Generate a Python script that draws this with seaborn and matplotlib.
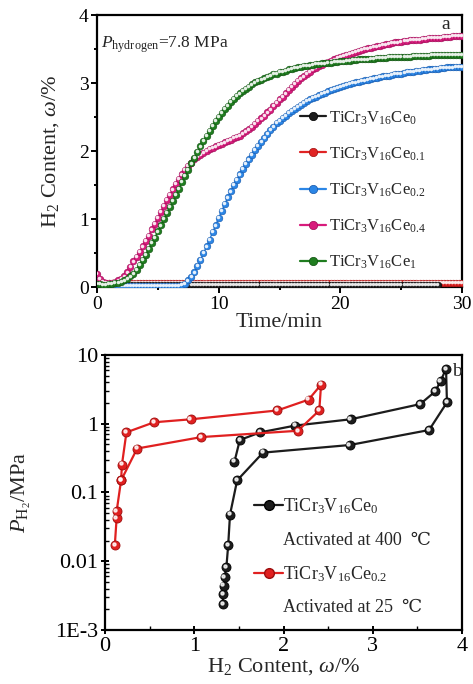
import numpy as np
import pandas as pd
import matplotlib
matplotlib.use("Agg")
import matplotlib.pyplot as plt
import matplotlib.transforms as mtransforms
from matplotlib.lines import Line2D
from matplotlib.ticker import MultipleLocator, LogLocator, NullFormatter
import seaborn as sns

# ---------------- data: panel a (kinetics, sampled every 0.25 min) ----------------
time_min = [i * 0.25 for i in range(121)]
time_black = [i * 0.25 for i in range(113)]

ce0 = [0.03, 0.03, 0.03, 0.03, 0.03, 0.03, 0.03, 0.03, 0.03, 0.03,
       0.03, 0.03, 0.03, 0.03, 0.03, 0.03, 0.03, 0.03, 0.03, 0.03,
       0.03, 0.03, 0.03, 0.03, 0.03, 0.03, 0.03, 0.03, 0.03, 0.03,
       0.03, 0.03, 0.03, 0.03, 0.03, 0.03, 0.03, 0.03, 0.03, 0.03,
       0.03, 0.03, 0.03, 0.03, 0.03, 0.03, 0.03, 0.03, 0.03, 0.03,
       0.03, 0.03, 0.03, 0.03, 0.03, 0.03, 0.03, 0.03, 0.03, 0.03,
       0.03, 0.03, 0.03, 0.03, 0.03, 0.03, 0.03, 0.03, 0.03, 0.03,
       0.03, 0.03, 0.03, 0.03, 0.03, 0.03, 0.03, 0.03, 0.03, 0.03,
       0.03, 0.03, 0.03, 0.03, 0.03, 0.03, 0.03, 0.03, 0.03, 0.03,
       0.03, 0.03, 0.03, 0.03, 0.03, 0.03, 0.03, 0.03, 0.03, 0.03,
       0.03, 0.03, 0.03, 0.03, 0.03, 0.03, 0.03, 0.03, 0.03, 0.03,
       0.03, 0.03, 0.03]
ce01 = [0.07, 0.07, 0.07, 0.07, 0.07, 0.07, 0.07, 0.07, 0.07, 0.07,
        0.07, 0.07, 0.07, 0.07, 0.07, 0.07, 0.07, 0.07, 0.07, 0.07,
        0.07, 0.07, 0.07, 0.07, 0.07, 0.07, 0.07, 0.07, 0.07, 0.07,
        0.07, 0.07, 0.07, 0.07, 0.07, 0.07, 0.07, 0.07, 0.07, 0.07,
        0.07, 0.07, 0.07, 0.07, 0.07, 0.07, 0.07, 0.07, 0.07, 0.07,
        0.07, 0.07, 0.07, 0.07, 0.07, 0.07, 0.07, 0.07, 0.07, 0.07,
        0.07, 0.07, 0.07, 0.07, 0.07, 0.07, 0.07, 0.07, 0.07, 0.07,
        0.07, 0.07, 0.07, 0.07, 0.07, 0.07, 0.07, 0.07, 0.07, 0.07,
        0.07, 0.07, 0.07, 0.07, 0.07, 0.07, 0.07, 0.07, 0.07, 0.07,
        0.07, 0.07, 0.07, 0.07, 0.07, 0.07, 0.07, 0.07, 0.07, 0.07,
        0.07, 0.07, 0.07, 0.07, 0.07, 0.07, 0.07, 0.07, 0.07, 0.07,
        0.07, 0.07, 0.07, 0.07, 0.07, 0.07, 0.07, 0.07, 0.07, 0.07,
        0.07]
ce02 = [0.10, 0.07, 0.05, 0.04, 0.03, 0.03, 0.02, 0.02, 0.02, 0.02,
        0.02, 0.02, 0.02, 0.02, 0.02, 0.02, 0.02, 0.02, 0.02, 0.02,
        0.02, 0.02, 0.02, 0.02, 0.02, 0.02, 0.02, 0.02, 0.03, 0.05,
        0.10, 0.15, 0.22, 0.31, 0.40, 0.50, 0.60, 0.70, 0.81, 0.91,
        1.02, 1.12, 1.22, 1.32, 1.41, 1.50, 1.58, 1.66, 1.74, 1.81,
        1.88, 1.95, 2.02, 2.08, 2.14, 2.20, 2.25, 2.31, 2.36, 2.41,
        2.45, 2.49, 2.52, 2.56, 2.59, 2.62, 2.65, 2.68, 2.71, 2.74,
        2.76, 2.78, 2.80, 2.82, 2.84, 2.86, 2.88, 2.90, 2.91, 2.93,
        2.94, 2.96, 2.97, 2.99, 3.00, 3.01, 3.02, 3.03, 3.04, 3.05,
        3.06, 3.07, 3.08, 3.09, 3.10, 3.11, 3.11, 3.12, 3.13, 3.14,
        3.14, 3.15, 3.16, 3.17, 3.17, 3.18, 3.18, 3.19, 3.19, 3.20,
        3.20, 3.21, 3.21, 3.22, 3.22, 3.23, 3.23, 3.23, 3.24, 3.24,
        3.24]
ce04 = [0.20, 0.12, 0.08, 0.06, 0.06, 0.07, 0.08, 0.10, 0.12, 0.16,
        0.22, 0.30, 0.38, 0.45, 0.52, 0.60, 0.68, 0.76, 0.85, 0.93,
        1.02, 1.11, 1.20, 1.28, 1.36, 1.44, 1.52, 1.59, 1.66, 1.72,
        1.78, 1.83, 1.88, 1.92, 1.95, 1.98, 2.00, 2.03, 2.05, 2.07,
        2.09, 2.11, 2.13, 2.15, 2.17, 2.19, 2.21, 2.23, 2.26, 2.29,
        2.32, 2.36, 2.40, 2.44, 2.48, 2.52, 2.57, 2.61, 2.66, 2.71,
        2.76, 2.80, 2.85, 2.90, 2.94, 2.99, 3.03, 3.07, 3.10, 3.14,
        3.17, 3.20, 3.22, 3.25, 3.27, 3.29, 3.31, 3.33, 3.35, 3.37,
        3.38, 3.40, 3.41, 3.43, 3.44, 3.46, 3.47, 3.49, 3.50, 3.51,
        3.52, 3.53, 3.54, 3.55, 3.56, 3.57, 3.58, 3.59, 3.60, 3.60,
        3.61, 3.62, 3.62, 3.63, 3.63, 3.64, 3.64, 3.65, 3.65, 3.66,
        3.66, 3.67, 3.67, 3.67, 3.68, 3.68, 3.68, 3.69, 3.69, 3.69,
        3.69]
ce1 = [0.05, 0.05, 0.04, 0.04, 0.05, 0.05, 0.06, 0.07, 0.08, 0.10,
       0.12, 0.16, 0.20, 0.26, 0.33, 0.40, 0.48, 0.56, 0.65, 0.73,
       0.82, 0.91, 1.00, 1.09, 1.18, 1.27, 1.36, 1.45, 1.55, 1.64,
       1.73, 1.82, 1.90, 1.99, 2.07, 2.15, 2.22, 2.30, 2.37, 2.44,
       2.50, 2.56, 2.62, 2.67, 2.72, 2.77, 2.81, 2.85, 2.89, 2.92,
       2.95, 2.98, 3.01, 3.03, 3.05, 3.07, 3.09, 3.11, 3.13, 3.14,
       3.16, 3.17, 3.18, 3.20, 3.21, 3.22, 3.23, 3.24, 3.25, 3.25,
       3.26, 3.27, 3.28, 3.28, 3.29, 3.29, 3.30, 3.30, 3.31, 3.31,
       3.32, 3.32, 3.33, 3.33, 3.34, 3.34, 3.35, 3.35, 3.35, 3.35,
       3.36, 3.36, 3.37, 3.37, 3.37, 3.37, 3.38, 3.38, 3.38, 3.38,
       3.39, 3.39, 3.39, 3.39, 3.40, 3.40, 3.40, 3.40, 3.40, 3.40,
       3.41, 3.41, 3.41, 3.41, 3.41, 3.41, 3.42, 3.42, 3.42, 3.42,
       3.42]

labels_a = ["TiCr$_3$V$_{16}$Ce$_0$", "TiCr$_3$V$_{16}$Ce$_{0.1}$",
            "TiCr$_3$V$_{16}$Ce$_{0.2}$", "TiCr$_3$V$_{16}$Ce$_{0.4}$",
            "TiCr$_3$V$_{16}$Ce$_1$"]
colors_a = ["#1c1c1c", "#e02424", "#2b86e6", "#d81b7c", "#1f7d1f"]
edge_a = ["#000000", "#a01010", "#1555a8", "#9c0c55", "#0f4f0f"]

# ---------------- data: panel b (PCT) ----------------
pct_ce0_x = [1.32, 1.32, 1.33, 1.34, 1.36, 1.38, 1.40, 1.48, 1.77, 2.74, 3.63, 3.83,
             3.82, 3.76, 3.70, 3.53, 2.75, 2.13, 1.74, 1.51, 1.45]
pct_ce0_p = [0.0024, 0.0033, 0.0044, 0.0059, 0.0083, 0.0173, 0.0475, 0.15, 0.38, 0.49, 0.81, 2.04,
             6.3, 4.2, 2.96, 1.93, 1.16, 0.94, 0.75, 0.58, 0.28]
pct_ce02_x = [0.11, 0.13, 0.13, 0.18, 0.19, 0.24, 0.55, 0.96, 1.93, 2.28, 2.42,
              2.40, 2.16, 1.08, 0.36, 0.18]
pct_ce02_p = [0.0173, 0.042, 0.053, 0.15, 0.255, 0.75, 1.05, 1.16, 1.56, 2.24, 3.7,
              1.56, 0.79, 0.64, 0.436, 0.15]
labels_b = ["TiCr$_3$V$_{16}$Ce$_0$", "Activated at 400  \u2103",
            "TiCr$_3$V$_{16}$Ce$_{0.2}$", "Activated at 25  \u2103"]
yticks_b = [1e-3, 1e-2, 1e-1, 1, 10]
yticklabels_b = ["1E-3", "0.01", "0.1", "1", "10"]

# ---------------- style ----------------
sns.set_theme(style="ticks")
plt.rcParams["font.family"] = ["Liberation Serif", "DejaVu Serif"]
plt.rcParams["mathtext.fontset"] = "custom"
plt.rcParams["mathtext.rm"] = "Liberation Serif"
plt.rcParams["mathtext.it"] = "Liberation Serif:italic"
plt.rcParams["mathtext.bf"] = "Liberation Serif:bold"
plt.rcParams["axes.linewidth"] = 1.6
plt.rcParams["axes.edgecolor"] = "black"

fig = plt.figure(figsize=(4.73, 6.84), dpi=100)
ax1 = fig.add_axes([0.205, 0.580, 0.772, 0.398])
ax2 = fig.add_axes([0.222, 0.079, 0.755, 0.402])

# ---- panel a ----
series_a = [(time_black, ce0), (time_min, ce01), (time_min, ce02), (time_min, ce04), (time_min, ce1)]
zorders_a = [4, 3, 5, 6, 7]
hl1 = mtransforms.offset_copy(ax1.transData, fig=fig, x=-0.55, y=0.55, units="points")
for k in range(5):
    t, v = series_a[k]
    df = pd.DataFrame({"t": t, "v": v})
    sns.lineplot(data=df, x="t", y="v", ax=ax1, color=colors_a[k], lw=1.0,
                 marker="o", markersize=4.8, markeredgecolor=edge_a[k],
                 markeredgewidth=0.4, zorder=zorders_a[k], legend=False,
                 estimator=None, errorbar=None)
    ax1.plot(t, v, ls="none", marker="o", markersize=1.6, color="white",
             alpha=0.8, transform=hl1, zorder=zorders_a[k] + 0.5)

ax1.set_xlim(0, 30)
ax1.set_ylim(0, 4)
ax1.xaxis.set_major_locator(MultipleLocator(10))
ax1.xaxis.set_minor_locator(MultipleLocator(5))
ax1.yaxis.set_major_locator(MultipleLocator(1))
ax1.yaxis.set_minor_locator(MultipleLocator(0.5))
ax1.tick_params(which="both", direction="out", colors="black", labelsize=14, width=1.4)
ax1.tick_params(which="major", length=4, pad=2)
ax1.tick_params(which="minor", length=2.5)
ax1.set_xlabel("Time/min", fontsize=16, labelpad=0)
ax1.set_ylabel("H$_2$ Content, $\\omega$/%", fontsize=16, labelpad=13)
ax1.text(0.01, 0.89, "$P_{\\mathrm{hydrogen}}$=7.8 MPa", transform=ax1.transAxes,
         fontsize=12.5, ha="left", va="center")
ax1.text(0.955, 0.965, "a", transform=ax1.transAxes, fontsize=14, ha="center", va="center")

handles_a = [Line2D([], [], color=colors_a[k], lw=1.6, marker="o", markersize=6,
                    markeredgecolor=edge_a[k], markeredgewidth=0.5) for k in range(5)]
ax1.legend(handles_a, labels_a, loc="center left", bbox_to_anchor=(0.555, 0.357),
           frameon=False, fontsize=12, handlelength=1.6, handletextpad=0.15,
           labelspacing=1.12, borderpad=0, borderaxespad=0)

# ---- panel b ----
hl2 = mtransforms.offset_copy(ax2.transData, fig=fig, x=-0.9, y=0.9, units="points")
for xs, ps, c, e, z in [(pct_ce0_x, pct_ce0_p, "#1c1c1c", "#000000", 3),
                        (pct_ce02_x, pct_ce02_p, "#e02020", "#9c0c0c", 4)]:
    sns.lineplot(x=xs, y=ps, sort=False, estimator=None, ax=ax2, color=c, lw=1.6,
                 marker="o", markersize=6.5, markeredgecolor=e, markeredgewidth=0.6,
                 zorder=z, legend=False, errorbar=None)
    ax2.plot(xs, ps, ls="none", marker="o", markersize=2.2, color="white",
             alpha=0.8, transform=hl2, zorder=z + 0.5)

ax2.set_yscale("log")
ax2.set_xlim(0, 4)
ax2.set_ylim(1e-3, 10)
ax2.set_yticks(yticks_b)
ax2.set_yticklabels(yticklabels_b)
ax2.yaxis.set_minor_locator(LogLocator(base=10, subs=np.arange(2, 10)))
ax2.yaxis.set_minor_formatter(NullFormatter())
ax2.xaxis.set_major_locator(MultipleLocator(1))
ax2.xaxis.set_minor_locator(MultipleLocator(0.5))
ax2.tick_params(which="major", direction="inout", colors="black", labelsize=16,
                width=1.4, length=6, pad=2)
ax2.tick_params(which="minor", direction="in", colors="black", width=1.0, length=3)
ax2.set_xlabel("H$_2$ Content, $\\omega$/%", fontsize=16, labelpad=0)
ax2.set_ylabel("$P_{\\mathrm{H_2}}$/MPa", fontsize=16, labelpad=16)
ax2.text(0.985, 0.94, "b", transform=ax2.transAxes, fontsize=14, ha="center", va="center")

handles_b = [Line2D([], [], color="#1c1c1c", lw=1.6, marker="o", markersize=7,
                    markeredgecolor="#000000"),
             Line2D([], [], ls="none", marker=None),
             Line2D([], [], color="#e02020", lw=1.6, marker="o", markersize=7,
                    markeredgecolor="#9c0c0c"),
             Line2D([], [], ls="none", marker=None)]
ax2.legend(handles_b, labels_b, loc="center left", bbox_to_anchor=(0.418, 0.268),
           frameon=False, fontsize=13, handlelength=1.6, handletextpad=0.0,
           labelspacing=0.85, borderpad=0, borderaxespad=0)

fig.savefig("out.png", dpi=100)
